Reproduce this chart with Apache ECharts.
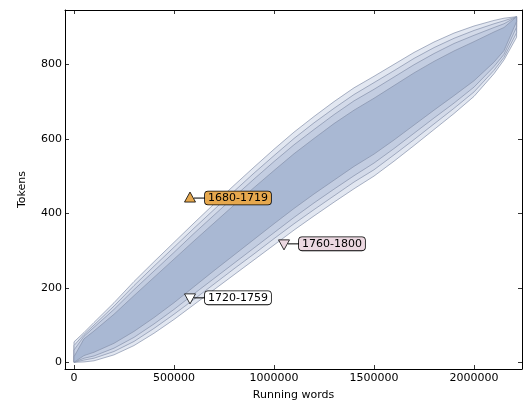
<!DOCTYPE html>
<html><head><meta charset="utf-8">
<script src="https://cdn.jsdelivr.net/npm/echarts@6/dist/echarts.min.js"></script>
<style>html,body{margin:0;padding:0;background:#fff}#c{width:523px;height:403px}</style>
</head><body><div id="c"></div>
<script>
const runningWords = [0,50000,100000,200000,300000,400000,500000,600000,700000,800000,900000,1000000,1100000,1200000,1300000,1400000,1500000,1600000,1700000,1800000,1900000,2000000,2100000,2150000,2213000];
const upperA = [55,80,107,160,217,270,322,374,425,475,524,572,618,660,700,737,768,800,832,860,884,903,918,924,928];
const upperB = [45,75,100,151,206,258,309,360,410,459,508,555,601,643,682,719,751,783,816,845,870,891,909,917,928];
const upperC = [33,70,94,142,195,245,295,346,395,444,492,539,584,625,665,702,733,766,799,829,856,878,899,909,928];
const upperD = [15,63,84,129,179,228,277,326,374,422,469,515,560,601,641,677,709,743,777,808,836,861,887,899,928];
const lowerD = [0,18,27,51,83,120,160,203,246,288,330,372,413,452,489,526,559,597,637,677,716,756,806,837,915];
const lowerC = [0,11,17,38,67,103,142,184,225,266,307,348,389,428,465,501,535,574,615,656,696,739,794,827,900];
const lowerB = [0,6,11,29,56,91,129,169,210,251,291,332,372,410,447,484,517,557,598,640,682,726,784,819,885];
const lowerA = [0,1,4,20,45,78,115,155,195,235,275,315,355,393,430,466,500,540,582,625,668,714,775,812,873];

const periodLabels = ['1680-1719','1720-1759','1760-1800'];
const periodWords = [580000,580000,1050000];
const periodTokens = [441,173,318];
const periodDirection = ['up','down','down'];
const periodColors = ['#e6a84e','#ffffff','#ecd8e1'];

const xTicks = [0,500000,1000000,1500000,2000000];
const yTicks = [0,200,400,600,800];

const bandColors = ['#e2e7f1','#d3dae9','#c3cde1','#a9b8d3'];
const bands = [[upperA,lowerA],[upperB,lowerB],[upperC,lowerC],[upperD,lowerD]];

const FONT = 'DejaVu Sans';
const chart = echarts.init(document.getElementById('c'), null, {renderer:'canvas'});

function axisBase(extra){
  return Object.assign({
    axisLine:{show:true,onZero:false,lineStyle:{color:'#000',width:1}},
    splitLine:{show:false},
    axisTick:{show:true,inside:true,length:4,lineStyle:{color:'#000',width:0.8}},
  }, extra);
}

chart.setOption({
  animation:false,
  backgroundColor:'#fff',
  grid:{left:65,right:1,top:10,bottom:34,outerBoundsMode:'none',containLabel:false},
  xAxis:[
    axisBase({type:'value',min:-45000,max:2240000,position:'bottom',
      name:'Running words',nameLocation:'middle',nameGap:21,
      nameTextStyle:{fontFamily:FONT,fontSize:11,color:'#000'},
      axisTick:{show:true,inside:true,length:4,customValues:xTicks,lineStyle:{color:'#000',width:0.8}},
      axisLabel:{customValues:xTicks,fontFamily:FONT,fontSize:11,color:'#000',margin:4,formatter:v=>String(v)}}),
    axisBase({type:'value',min:-45000,max:2240000,position:'top',
      axisTick:{show:true,inside:true,length:4,customValues:xTicks,lineStyle:{color:'#000',width:0.8}},
      axisLabel:{show:false,customValues:xTicks}})
  ],
  yAxis:[
    axisBase({type:'value',min:-18,max:946,position:'left',
      name:'Tokens',nameLocation:'middle',nameGap:37,nameRotate:90,
      nameTextStyle:{fontFamily:FONT,fontSize:11,color:'#000'},
      axisTick:{show:true,inside:true,length:4,customValues:yTicks,lineStyle:{color:'#000',width:0.8}},
      axisLabel:{customValues:yTicks,fontFamily:FONT,fontSize:11,color:'#000',margin:3}}),
    axisBase({type:'value',min:-18,max:946,position:'right',
      axisTick:{show:true,inside:true,length:4,customValues:yTicks,lineStyle:{color:'#000',width:0.8}},
      axisLabel:{show:false,customValues:yTicks}})
  ],
  series:[
    {
      type:'custom', clip:true, xAxisIndex:0, yAxisIndex:0,
      data: bands.map((b,i)=>[runningWords[0], b[0][0], i]),
      encode:{x:0,y:1},
      renderItem:function(params, api){
        const idx = api.value(2);
        const up = bands[idx][0], lo = bands[idx][1];
        const pts = [];
        for (let i=0;i<runningWords.length;i++) pts.push(api.coord([runningWords[i], up[i]]));
        for (let i=runningWords.length-1;i>=0;i--) pts.push(api.coord([runningWords[i], lo[i]]));
        return {type:'polygon', shape:{points:pts},
          style:{fill:bandColors[idx], stroke:'#8591aa', lineWidth:0.7}};
      },
      z:2
    },
    {
      type:'custom', clip:false, xAxisIndex:0, yAxisIndex:0,
      data: periodLabels.map((l,i)=>[periodWords[i], periodTokens[i], i]),
      encode:{x:0,y:1},
      renderItem:function(params, api){
        const i = api.value(2);
        const p = api.coord([api.value(0), api.value(1)]);
        const x = p[0], y = p[1];
        const tri = periodDirection[i]==='up'
          ? [[x,y-6],[x-5.5,y+4],[x+5.5,y+4]]
          : [[x-5.5,y-4],[x+5.5,y-4],[x,y+6]];
        return {type:'group', children:[
          {type:'line', shape:{x1:x+4,y1:y,x2:x+15,y2:y}, style:{stroke:'#000',lineWidth:1}},
          {type:'polygon', shape:{points:tri}, style:{fill:periodColors[i], stroke:'#000', lineWidth:0.8}},
          {type:'text', x:x+15, y:y, style:{text:periodLabels[i], fontFamily:FONT, fontSize:11, fill:'#000',
            align:'left', verticalAlign:'middle', backgroundColor:periodColors[i], borderColor:'#000',
            borderWidth:0.8, borderRadius:3, padding:[1,3,1,3]}}
        ]};
      },
      z:5
    }
  ]
});
</script></body></html>
